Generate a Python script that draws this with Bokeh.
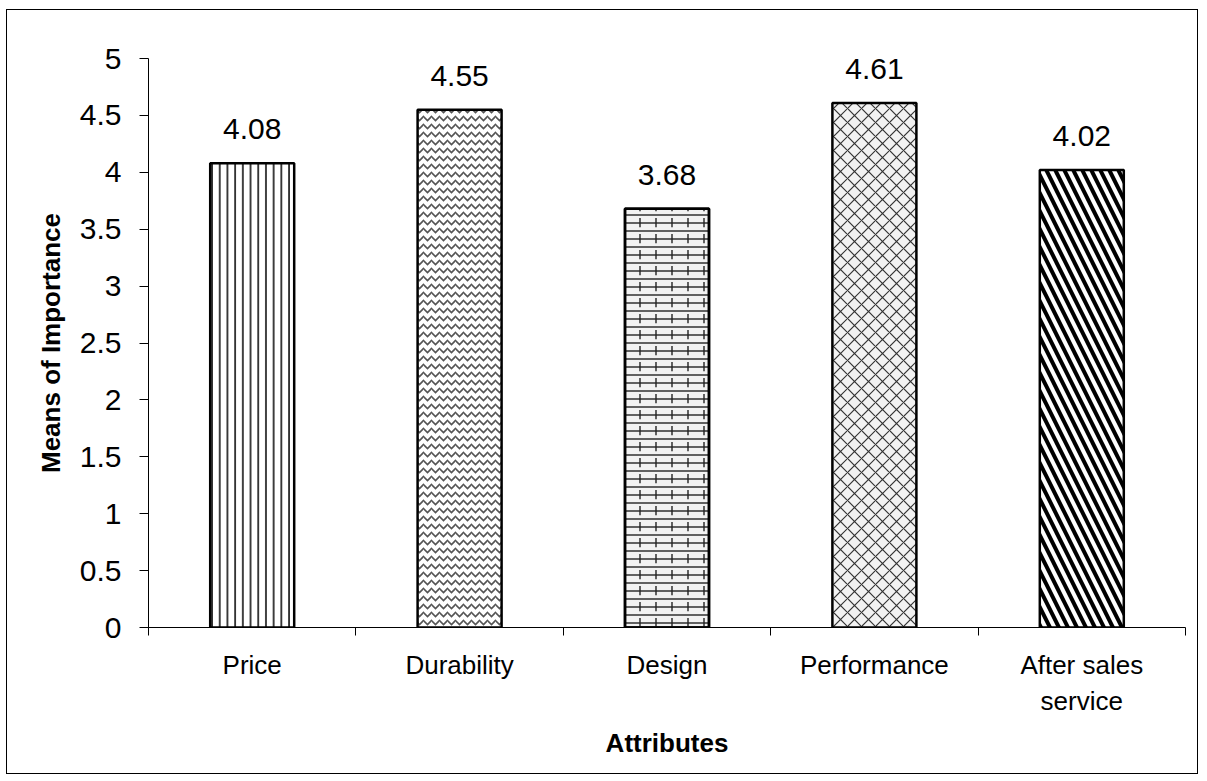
from bokeh.plotting import figure
from bokeh.models import (FixedTicker, NumeralTickFormatter,
                          ColumnDataSource, LinearAxis)
from bokeh.core.properties import value
from bokeh.embed import file_html
from bokeh.resources import INLINE

# ---- data ----
categories = ["Price", "Durability", "Design", "Performance", "After sales\nservice"]
means = [4.08, 4.55, 3.68, 4.61, 4.02]
mean_labels = ["4.08", "4.55", "3.68", "4.61", "4.02"]
y_ticks = [0, 0.5, 1, 1.5, 2, 2.5, 3, 3.5, 4, 4.5, 5]

# ---- styles ----
hatch_patterns = ["vertical_line", "horizontal_wave", "horizontal_line", "diagonal_cross", "left_diagonal_line"]
hatch_scales = [7.7, 8, 8, 14, 18]
hatch_weights = [1.6, 1.6, 1.4, 1.2, 4.0]
hatch_colors = ["#111111", "#555555", "#222222", "#333333", "#000000"]
fill_colors = ["white", "white", "#f2f2f2", "#f2f2f2", "white"]

FONT = "Liberation Sans"
n = len(categories)
xc = [i + 0.5 for i in range(n)]

p = figure(width=1190, height=763, x_range=(0, n), y_range=(0, 5),
           output_backend="svg", toolbar_location=None,
           x_axis_type=None, y_axis_type=None,
           min_border_left=141, min_border_right=12,
           min_border_top=48, min_border_bottom=146,
           margin=(10, 0, 0, 7))
p.styles = {"outline": "1.5px solid black"}
p.outline_line_color = None
p.xgrid.visible = False
p.ygrid.visible = False
p.background_fill_color = "white"
p.border_fill_color = "white"

src = ColumnDataSource(dict(x=xc, top=means, label=mean_labels))

for i in range(n):
    p.vbar(x=xc[i], top=means[i], width=0.405, bottom=0,
           fill_color=fill_colors[i], line_color="black", line_width=2.5,
           hatch_pattern=hatch_patterns[i], hatch_scale=hatch_scales[i],
           hatch_weight=hatch_weights[i], hatch_color=hatch_colors[i])
    if hatch_patterns[i] == "horizontal_line":
        p.vbar(x=xc[i], top=means[i], width=0.405, bottom=0,
               fill_alpha=0, line_color="black", line_width=2.5,
               hatch_pattern="vertical_dash", hatch_scale=16,
               hatch_weight=1.4, hatch_color="#222222")

p.text(x="x", y="top", text="label", source=src, text_align="center",
       text_baseline="alphabetic", y_offset=-34,
       text_font=value(FONT), text_font_size="30px", text_color="black")

# y axis
yaxis = LinearAxis(ticker=FixedTicker(ticks=y_ticks),
                   formatter=NumeralTickFormatter(format="0.[0]"),
                   axis_label="Means of Importance")
yaxis.major_tick_out = 9
yaxis.major_tick_in = 0
yaxis.minor_tick_out = 0
yaxis.minor_tick_in = 0
yaxis.major_label_standoff = 18
yaxis.major_label_text_font = FONT
yaxis.major_label_text_font_size = "30px"
yaxis.major_label_text_color = "black"
yaxis.axis_label_text_font = FONT
yaxis.axis_label_text_font_size = "26px"
yaxis.axis_label_text_font_style = "bold"
yaxis.axis_label_text_color = "black"
yaxis.axis_label_standoff = 11
yaxis.axis_line_color = "black"
yaxis.major_tick_line_color = "black"
p.add_layout(yaxis, "left")

# x axis
xaxis = LinearAxis(ticker=FixedTicker(ticks=xc, minor_ticks=list(range(n + 1))),
                   axis_label="Attributes")
xaxis.major_label_overrides = {xc[i]: categories[i] for i in range(n)}
xaxis.major_tick_out = 0
xaxis.major_tick_in = 0
xaxis.minor_tick_out = 8
xaxis.minor_tick_in = 0
xaxis.minor_tick_line_color = "black"
xaxis.major_label_standoff = 14
xaxis.major_label_text_font = FONT
xaxis.major_label_text_font_size = "26px"
xaxis.major_label_text_color = "black"
xaxis.axis_label_text_font = FONT
xaxis.axis_label_text_font_size = "26px"
xaxis.axis_label_text_font_style = "bold"
xaxis.axis_label_text_color = "black"
xaxis.axis_label_standoff = 9
xaxis.axis_line_color = "black"
p.add_layout(xaxis, "below")

open("out.html", "w").write(file_html(p, INLINE))
